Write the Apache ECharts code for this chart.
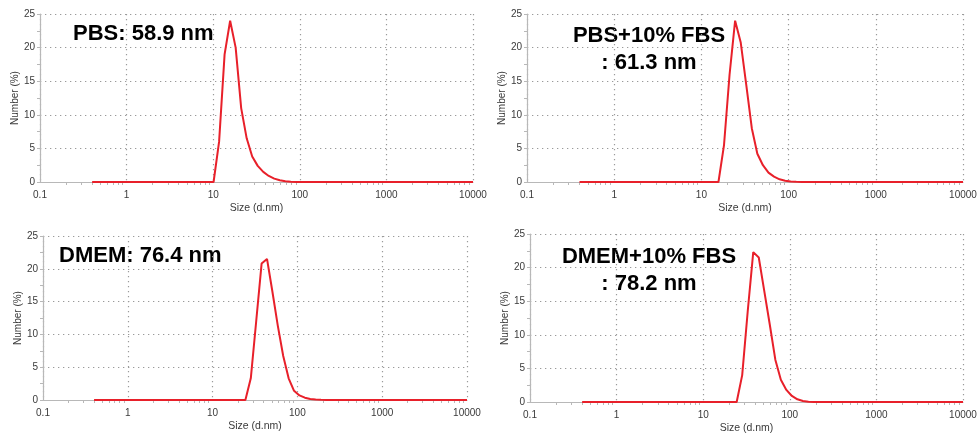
<!DOCTYPE html>
<html>
<head>
<meta charset="utf-8">
<script src="https://cdn.jsdelivr.net/npm/echarts@6/dist/echarts.min.js"></script>
<style>
  html, body { margin: 0; padding: 0; background: #fff; }
  #chart { width: 980px; height: 439px; }
</style>
</head>
<body>
<div id="chart"></div>
<script>
// Zetasizer size classes (d.nm)
const sizes = [0.4, 0.4632, 0.5365, 0.6213, 0.7195, 0.8332, 0.9649, 1.117, 1.294, 1.499,
  1.736, 2.01, 2.328, 2.696, 3.122, 3.615, 4.187, 4.849, 5.615, 6.503,
  7.531, 8.721, 10.1, 11.7, 13.54, 15.69, 18.17, 21.04, 24.36, 28.21,
  32.67, 37.84, 43.82, 50.75, 58.77, 68.06, 78.82, 91.28, 105.7, 122.4,
  141.8, 164.2, 190.1, 220.2, 255, 295.3, 342, 396.1, 458.7, 531.2,
  615.1, 712.4, 825, 955.4, 1106, 1281, 1484, 1718, 1990, 2305,
  2669, 3091, 3580, 4145, 4801, 5560, 6439, 7456, 8635, 10000];

// Number distribution (%) per medium
const pbs = [0, 0, 0, 0, 0, 0, 0, 0, 0, 0,
  0, 0, 0, 0, 0, 0, 0, 0, 0, 0,
  0, 0, 0, 6, 19, 24, 20, 11, 6.5, 3.8,
  2.4, 1.5, 0.9, 0.5, 0.25, 0.1, 0.04, 0, 0, 0,
  0, 0, 0, 0, 0, 0, 0, 0, 0, 0,
  0, 0, 0, 0, 0, 0, 0, 0, 0, 0,
  0, 0, 0, 0, 0, 0, 0, 0, 0, 0];
const pbsFbs = [0, 0, 0, 0, 0, 0, 0, 0, 0, 0,
  0, 0, 0, 0, 0, 0, 0, 0, 0, 0,
  0, 0, 0, 0, 0, 0, 5.5, 16, 24, 20.8,
  14.5, 8, 4.2, 2.5, 1.4, 0.8, 0.4, 0.2, 0.08, 0.03,
  0, 0, 0, 0, 0, 0, 0, 0, 0, 0,
  0, 0, 0, 0, 0, 0, 0, 0, 0, 0,
  0, 0, 0, 0, 0, 0, 0, 0, 0, 0];
const dmem = [0, 0, 0, 0, 0, 0, 0, 0, 0, 0,
  0, 0, 0, 0, 0, 0, 0, 0, 0, 0,
  0, 0, 0, 0, 0, 0, 0, 0, 0, 3.3,
  12, 20.8, 21.5, 16.5, 11.3, 6.7, 3.3, 1.4, 0.7, 0.35,
  0.15, 0.06, 0.02, 0, 0, 0, 0, 0, 0, 0,
  0, 0, 0, 0, 0, 0, 0, 0, 0, 0,
  0, 0, 0, 0, 0, 0, 0, 0, 0, 0];
const dmemFbs = [0, 0, 0, 0, 0, 0, 0, 0, 0, 0,
  0, 0, 0, 0, 0, 0, 0, 0, 0, 0,
  0, 0, 0, 0, 0, 0, 0, 0, 0, 4,
  13.5, 22.3, 21.5, 16.5, 11.5, 6.3, 3.3, 1.8, 0.9, 0.4,
  0.15, 0.05, 0, 0, 0, 0, 0, 0, 0, 0,
  0, 0, 0, 0, 0, 0, 0, 0, 0, 0,
  0, 0, 0, 0, 0, 0, 0, 0, 0, 0];

const sizeTicks = ['0.1', '1', '10', '100', '1000', '10000'];
const panelLabels = [['PBS: 58.9 nm'], ['PBS+10% FBS', ': 61.3 nm'], ['DMEM: 76.4 nm'], ['DMEM+10% FBS', ': 78.2 nm']];
const xName = 'Size (d.nm)';
const yName = 'Number (%)';

const panels = [
  { values: pbs,     grid: { left: 40,  top: 14,  width: 433, height: 168 } },
  { values: pbsFbs,  grid: { left: 527, top: 14,  width: 436, height: 168 } },
  { values: dmem,    grid: { left: 43,  top: 236, width: 424, height: 164 } },
  { values: dmemFbs, grid: { left: 530, top: 234, width: 433, height: 168 } }
];

// minor tick positions 2..9 within each decade
const minorTicks = [];
for (let d = -1; d < 4; d++) {
  for (let m = 2; m <= 9; m++) minorTicks.push(+(m * Math.pow(10, d)).toPrecision(3));
}

const FONT = '"Liberation Sans", Arial, Helvetica, sans-serif';
const dotted = { color: '#9a9a9a', width: 1.2, type: [1.3, 3.7] };
const axisGray = '#b8b8b8';
const labelColor = '#3a3a3a';

const chart = echarts.init(document.getElementById('chart'), null, { renderer: 'canvas' });

// main size axes (labels, decade gridlines)
const mainX = panels.map((p, i) => ({
  type: 'log', logBase: 10, gridIndex: i, min: 0.1, max: 10000, position: 'bottom',
  name: xName, nameLocation: 'middle', nameGap: 21,
  nameTextStyle: { fontFamily: FONT, fontSize: 10.5, color: labelColor },
  axisLine: { show: true, onZero: false, lineStyle: { color: axisGray, width: 1.2 } },
  axisTick: { show: false },
  axisLabel: {
    fontFamily: FONT, fontSize: 10, color: labelColor, margin: 8,
    formatter: v => sizeTicks[Math.round(Math.log10(v)) + 1]
  },
  splitLine: { show: true, lineStyle: dotted }
}));
// overlay axes carrying only the 2..9 minor ticks
const minorX = panels.map((p, i) => ({
  type: 'log', logBase: 10, gridIndex: i, min: 0.1, max: 10000, position: 'bottom', offset: 0,
  axisLine: { show: false, onZero: false },
  axisTick: { show: true, length: 3, customValues: minorTicks, lineStyle: { color: axisGray } },
  axisLabel: { show: false },
  splitLine: { show: false }
}));

const option = {
  backgroundColor: '#fff',
  animation: false,
  grid: panels.map(p => Object.assign({ containLabel: false }, p.grid)),
  xAxis: mainX.concat(minorX),
  yAxis: panels.map((p, i) => ({
    type: 'value', gridIndex: i, min: 0, max: 25, interval: 5,
    name: yName, nameLocation: 'middle', nameGap: 20,
    nameTextStyle: { fontFamily: FONT, fontSize: 10, color: labelColor },
    axisLine: { show: true, lineStyle: { color: axisGray, width: 1.2 } },
    axisTick: { show: true, length: 3, lineStyle: { color: axisGray } },
    minorTick: { show: true, splitNumber: 2, length: 3, lineStyle: { color: axisGray } },
    axisLabel: { fontFamily: FONT, fontSize: 10, color: labelColor, margin: 5 },
    splitLine: { show: true, lineStyle: dotted }
  })),
  series: panels.map((p, i) => ({
    type: 'line', xAxisIndex: i, yAxisIndex: i,
    data: sizes.map((s, k) => [s, p.values[k]]),
    showSymbol: false, smooth: false,
    lineStyle: { color: '#e8202a', width: 2 },
    z: 5
  })),
  graphic: [
    { type: 'text', left: 73, top: 23, style: { text: panelLabels[0][0], font: 'bold 22px ' + FONT, fill: '#000' } },
    { type: 'text', x: 649, y: 25, style: { text: panelLabels[1][0], font: 'bold 22px ' + FONT, fill: '#000', textAlign: 'center' } },
    { type: 'text', x: 649, y: 52, style: { text: panelLabels[1][1], font: 'bold 22px ' + FONT, fill: '#000', textAlign: 'center' } },
    { type: 'text', left: 59, top: 245, style: { text: panelLabels[2][0], font: 'bold 22px ' + FONT, fill: '#000' } },
    { type: 'text', x: 649, y: 246, style: { text: panelLabels[3][0], font: 'bold 22px ' + FONT, fill: '#000', textAlign: 'center' } },
    { type: 'text', x: 649, y: 273, style: { text: panelLabels[3][1], font: 'bold 22px ' + FONT, fill: '#000', textAlign: 'center' } }
  ]
};

chart.setOption(option);
</script>
</body>
</html>
